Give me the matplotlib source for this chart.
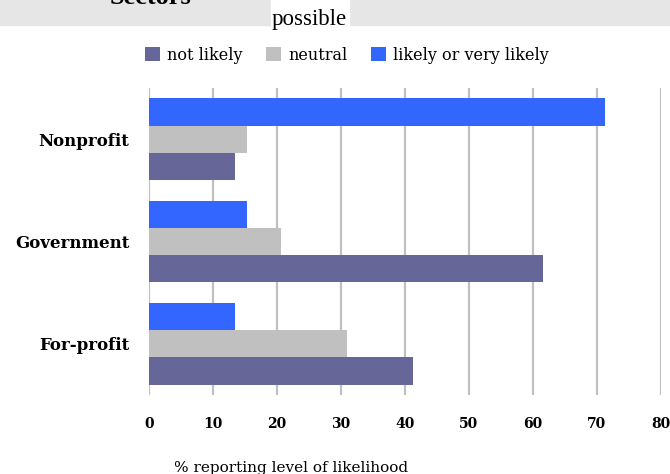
import matplotlib.pyplot as plt
import numpy as np
from matplotlib.patches import Rectangle

sectors = ["For-profit", "Government", "Nonprofit"]
not_likely = [41.2, 61.5, 13.4]
neutral = [30.9, 20.6, 15.3]
likely = [13.4, 15.3, 71.3]
x_ticks = [0, 10, 20, 30, 40, 50, 60, 70, 80]

c_not = "#666699"
c_neu = "#c0c0c0"
c_lik = "#3366ff"

W, H = 670, 474
fig = plt.figure(figsize=(6.7, 4.74), dpi=100)
ax = fig.add_axes([149 / W, 1 - 395 / H, 512 / W, 307 / H])

y = np.arange(len(sectors))
h = 0.8 / 3
b1 = ax.barh(y - h, not_likely, height=h, color=c_not, label="not likely", zorder=3)
b2 = ax.barh(y, neutral, height=h, color=c_neu, label="neutral", zorder=3)
b3 = ax.barh(y + h, likely, height=h, color=c_lik, label="likely or very likely", zorder=3)

ax.set_xlim(0, 80)
ax.set_ylim(-0.5, 2.5)
ax.set_xticks(x_ticks)
ax.set_xticklabels([str(t) for t in x_ticks], family="DejaVu Serif",
                   fontweight="bold", fontsize=10)
ax.set_yticks(y)
ax.set_yticklabels(sectors, family="DejaVu Serif", fontweight="bold", fontsize=12)
ax.tick_params(axis="x", length=0, pad=16)
ax.tick_params(axis="y", length=0, pad=14)
ax.grid(axis="x", color="#c0c0c0", linewidth=1.6, zorder=0)
for s in ax.spines.values():
    s.set_visible(False)

# title strip at the top
fig.patches.append(Rectangle((0, 1 - 24.7 / H), 1, 24.7 / H, transform=fig.transFigure,
                             color="#e6e6e6", zorder=0))
fig.patches.append(Rectangle((271 / W, 1 - 24.7 / H), 78 / W, 24.7 / H,
                             transform=fig.transFigure, color="white", zorder=1))
fig.text(110 / W, 1 - 4 / H, "Sectors", family="Liberation Serif", fontweight="bold",
         fontsize=19, va="baseline", ha="left")
fig.text(272 / W, 1 - 25 / H, "possible", family="Liberation Serif",
         fontsize=16.5, va="baseline", ha="left")

fig.legend(handles=[b1, b2, b3], loc="center", bbox_to_anchor=(347 / W, 1 - 55 / H),
           ncol=3, frameon=False, prop={"family": "DejaVu Serif", "size": 11.5},
           handlelength=0.9, handleheight=1.0, handletextpad=0.45, columnspacing=1.5)

fig.text(291 / W, 1 - 461 / H, "% reporting level of likelihood", family="DejaVu Serif",
         fontsize=11, va="top", ha="center")

fig.savefig("out.png", dpi=100)
